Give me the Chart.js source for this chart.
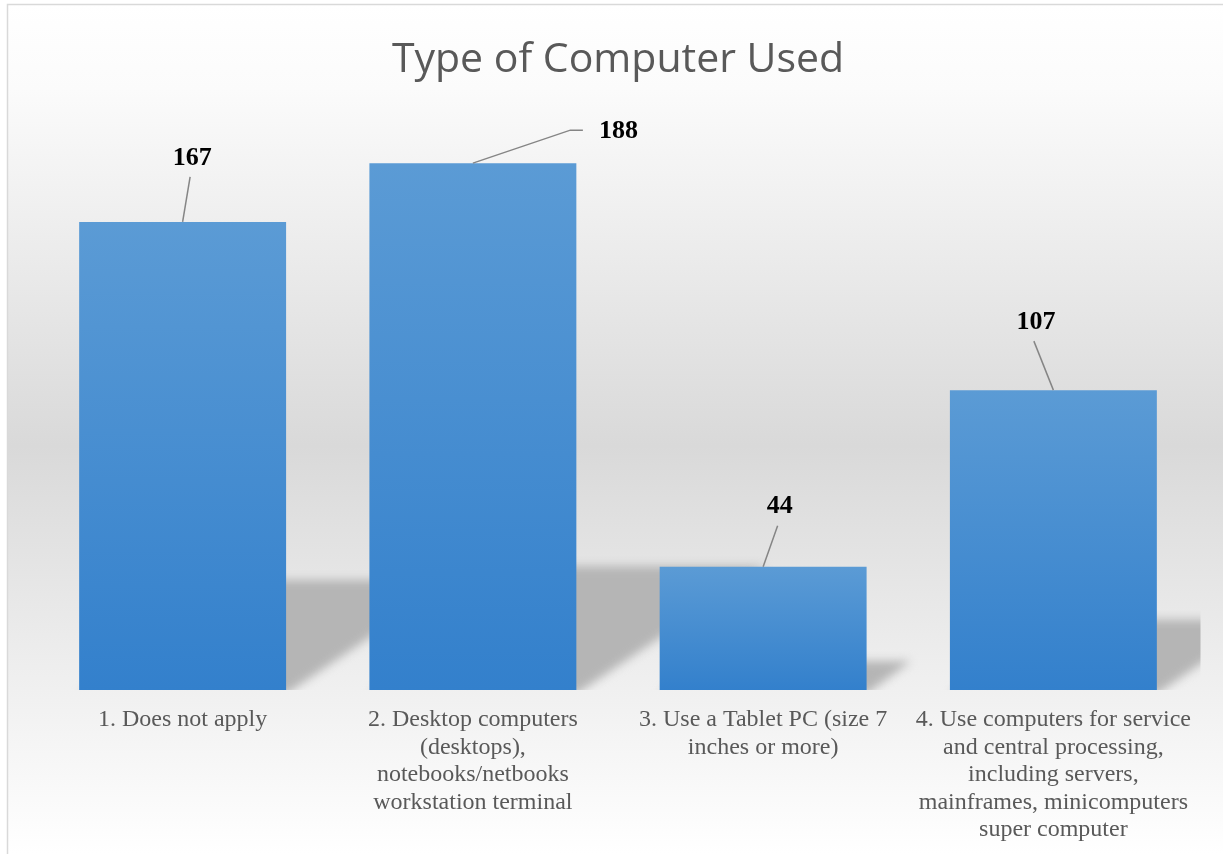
<!DOCTYPE html>
<html>
<head>
<meta charset="utf-8">
<script src="https://cdn.jsdelivr.net/npm/chart.js@4/dist/chart.umd.min.js"></script>
<style>
  html, body { margin: 0; padding: 0; background: #ffffff; }
  #wrap { width: 1223px; height: 854px; position: relative; }
</style>
</head>
<body>
<div id="wrap"><canvas id="c" width="1223" height="854"></canvas></div>
<script>
const chartTitle = 'Type of Computer Used';
const categories = [
  ['1. Does not apply'],
  ['2. Desktop computers', '(desktops),', 'notebooks/netbooks', 'workstation terminal'],
  ['3. Use a Tablet PC (size 7', 'inches or more)'],
  ['4. Use computers for service', 'and central processing,', 'including servers,', 'mainframes, minicomputers', 'super computer']
];
const counts = [167, 188, 44, 107];

// label placement (relative to bar top centre) and leader style
const labelOffsets = [[9.5, -64], [145.5, -32], [16.5, -60], [-17.5, -68]];
const leaderModes = ['below', 'left', 'below', 'below'];

const bgPlugin = {
  id: 'bgPlugin',
  beforeDraw(chart) {
    const ctx = chart.ctx, W = chart.width, H = chart.height;
    ctx.save();
    ctx.fillStyle = '#ffffff';
    ctx.fillRect(0, 0, W, H);
    const g = ctx.createLinearGradient(0, 4, 0, H);
    g.addColorStop(0, '#ffffff');
    g.addColorStop(0.1, '#fbfbfb');
    g.addColorStop(0.52, '#d9d9d9');
    g.addColorStop(0.78, '#eeeeee');
    g.addColorStop(1, '#ffffff');
    ctx.fillStyle = g;
    ctx.fillRect(7, 4, W - 7, H - 4);
    ctx.strokeStyle = '#d9d9d9';
    ctx.lineWidth = 1.5;
    ctx.beginPath();
    ctx.moveTo(7.5, H);
    ctx.lineTo(7.5, 4.5);
    ctx.lineTo(W, 4.5);
    ctx.stroke();
    ctx.restore();
  }
};

const shadowPlugin = {
  id: 'shadowPlugin',
  beforeDatasetsDraw(chart) {
    const ctx = chart.ctx, ca = chart.chartArea;
    const meta = chart.getDatasetMeta(0);
    ctx.save();
    ctx.beginPath();
    ctx.rect(ca.left, ca.top, ca.right - ca.left + 2, ca.bottom - ca.top);
    ctx.clip();
    ctx.filter = 'blur(5px)';
    ctx.fillStyle = '#b5b5b5';
    meta.data.forEach(el => {
      const p = el.getProps(['x', 'y', 'base', 'width'], true);
      const left = p.x - p.width / 2, right = p.x + p.width / 2;
      const h = p.base - p.y;
      const dy = 0.235 * h, dx = 1.53 * dy;
      ctx.beginPath();
      ctx.moveTo(left, p.base + 4);
      ctx.lineTo(right, p.base + 4);
      ctx.lineTo(right + dx, p.base - dy);
      ctx.lineTo(left + dx, p.base - dy);
      ctx.closePath();
      ctx.fill();
    });
    ctx.restore();
  }
};

const labelPlugin = {
  id: 'labelPlugin',
  afterDatasetsDraw(chart) {
    const ctx = chart.ctx;
    const meta = chart.getDatasetMeta(0);
    const data = chart.data.datasets[0].data;
    ctx.save();
    meta.data.forEach((el, i) => {
      const p = el.getProps(['x', 'y'], true);
      const lx = p.x + labelOffsets[i][0], ly = p.y + labelOffsets[i][1];
      ctx.strokeStyle = '#858585';
      ctx.lineWidth = 1.5;
      ctx.beginPath();
      ctx.moveTo(p.x, p.y);
      if (leaderModes[i] === 'left') {
        ctx.lineTo(lx - 48, ly - 1);
        ctx.lineTo(lx - 35.5, ly - 1);
      } else {
        ctx.lineTo(lx - 2, ly + 19);
      }
      ctx.stroke();
      ctx.fillStyle = '#000000';
      ctx.font = 'bold 26px "Liberation Serif", "Times New Roman", serif';
      ctx.textAlign = 'center';
      ctx.textBaseline = 'middle';
      ctx.fillText(String(data[i]), lx, ly);
    });
    ctx.restore();
  }
};

new Chart(document.getElementById('c'), {
  type: 'bar',
  data: {
    labels: categories,
    datasets: [{
      data: counts,
      categoryPercentage: 1.0,
      barPercentage: 0.713,
      borderWidth: 0,
      backgroundColor: (c) => {
        const chart = c.chart;
        if (!chart.chartArea || c.type !== 'data') return '#4a8fd2';
        const y = chart.scales.y;
        const top = y.getPixelForValue(c.raw);
        const bot = y.getPixelForValue(0);
        const g = chart.ctx.createLinearGradient(0, top, 0, bot);
        g.addColorStop(0, '#5b9bd5');
        g.addColorStop(1, '#3380cc');
        return g;
      }
    }]
  },
  options: {
    responsive: false,
    animation: false,
    devicePixelRatio: 1,
    layout: { padding: { left: 37.5, right: 24.5, top: 0, bottom: 0 } },
    plugins: {
      legend: { display: false },
      tooltip: { enabled: false },
      title: {
        display: true,
        text: chartTitle,
        color: '#595959',
        font: { family: '"Open Sans", sans-serif', size: 41, weight: 'normal', lineHeight: 1.2 },
        padding: { top: 35.5, bottom: 44.8 }
      }
    },
    scales: {
      x: {
        grid: { display: false, drawTicks: false },
        border: { display: false },
        ticks: {
          color: '#595959',
          font: { family: '"Liberation Serif", "Times New Roman", serif', size: 24, lineHeight: 1.15 },
          padding: 16,
          maxRotation: 0,
          minRotation: 0,
          autoSkip: false
        },
        afterFit: (s) => { s.height = 164; }
      },
      y: {
        display: false,
        min: 0,
        max: 200
      }
    }
  },
  plugins: [bgPlugin, shadowPlugin, labelPlugin]
});
</script>
</body>
</html>
